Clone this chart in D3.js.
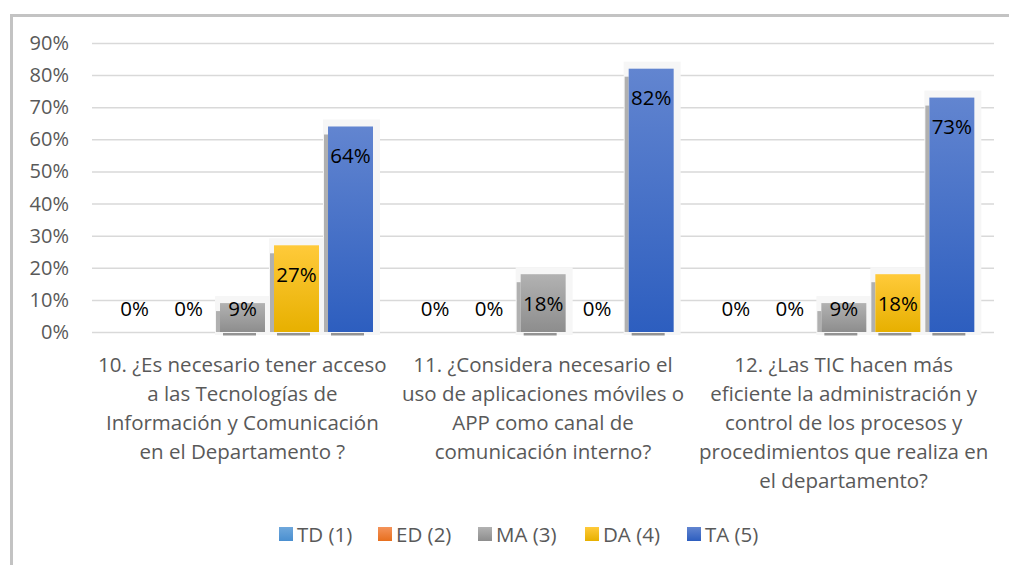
<!DOCTYPE html>
<html>
<head>
<meta charset="utf-8">
<script src="https://cdn.jsdelivr.net/npm/d3@7"></script>
<style>
  body { margin: 0; background: #fff; }
  svg { display: block; font-family: "Open Sans", sans-serif; }
</style>
</head>
<body>
<svg id="chart" width="1009" height="565"></svg>
<script>
// data
var categories = [
  "10. ¿Es necesario tener acceso\na las Tecnologías de\nInformación y Comunicación\nen el Departamento ?",
  "11. ¿Considera necesario el\nuso de aplicaciones móviles o\nAPP como canal de\ncomunicación interno?",
  "12. ¿Las TIC hacen más\neficiente la administración y\ncontrol de los procesos y\nprocedimientos que realiza en\nel departamento?"
];
var seriesNames = ["TD (1)", "ED (2)", "MA (3)", "DA (4)", "TA (5)"];
var TD = [0, 0, 0];
var ED = [0, 0, 0];
var MA = [9, 18, 9];
var DA = [27, 0, 18];
var TA = [64, 82, 73];
var yTicks = [0, 10, 20, 30, 40, 50, 60, 70, 80, 90];

var seriesValues = [TD, ED, MA, DA, TA];
var colors = [
  ["#6fa8dc", "#4a8fd0"],
  ["#f4935a", "#e76f1e"],
  ["#b2b2b2", "#8d8d8d"],
  ["#ffca3a", "#e7b000"],
  ["#6285d0", "#2d5ebf"]
];

var svg = d3.select("#chart");

// outer border
svg.append("rect")
  .attr("x", 11.5).attr("y", 15.5)
  .attr("width", 1009).attr("height", 600)
  .attr("fill", "none")
  .attr("stroke", "#c3c3c3")
  .attr("stroke-width", 3);

var defs = svg.append("defs");
colors.forEach(function(c, i){
  var g = defs.append("linearGradient")
    .attr("id", "grad" + i)
    .attr("x1", 0).attr("y1", 0).attr("x2", 0).attr("y2", 1);
  g.append("stop").attr("offset", "0%").attr("stop-color", c[0]);
  g.append("stop").attr("offset", "100%").attr("stop-color", c[1]);
});

var plotLeft = 92, plotRight = 994, plotTop = 43, plotBottom = 332;

var y = d3.scaleLinear().domain([0, 90]).range([plotBottom, plotTop]);
var x0 = d3.scaleBand().domain(d3.range(categories.length)).range([plotLeft, plotRight]);
var x1 = d3.scaleBand().domain(d3.range(seriesNames.length))
  .range([20, 281]).paddingInner(0.167).paddingOuter(0);

// gridlines
svg.append("g")
  .selectAll("line")
  .data(yTicks)
  .enter()
  .append("line")
  .attr("x1", plotLeft).attr("x2", plotRight)
  .attr("y1", function(d){ return y(d) + 0.5; })
  .attr("y2", function(d){ return y(d) + 0.5; })
  .attr("stroke", "#d9d9d9")
  .attr("stroke-width", 1.5);

// y axis labels
svg.append("g")
  .selectAll("text")
  .data(yTicks)
  .enter()
  .append("text")
  .attr("x", 69)
  .attr("y", function(d){ return y(d) + 7; })
  .attr("text-anchor", "end")
  .attr("font-size", 20)
  .attr("fill", "#595959")
  .text(function(d){ return d + "%"; });

// flatten bars
var bars = [];
categories.forEach(function(c, ci){
  seriesValues.forEach(function(vals, si){
    bars.push({ci: ci, si: si, v: vals[ci]});
  });
});

function bx(d){ return x0(d.ci) + x1(d.si); }
var bw = x1.bandwidth();

var barG = svg.append("g");
var shown = bars.filter(function(d){ return d.v > 0; });

// soft glow
barG.selectAll("rect.glow")
  .data(shown)
  .enter()
  .append("rect")
  .attr("class", "glow")
  .attr("x", function(d){ return bx(d) - 5; })
  .attr("y", function(d){ return y(d.v) - 7; })
  .attr("width", bw + 12)
  .attr("height", function(d){ return plotBottom - y(d.v) + 10; })
  .attr("fill", "#f6f6f6");

// left shadow
barG.selectAll("rect.shadow")
  .data(shown)
  .enter()
  .append("rect")
  .attr("class", "shadow")
  .attr("x", function(d){ return bx(d) - 4; })
  .attr("y", function(d){ return Math.min(y(d.v) + 8, plotBottom - 4); })
  .attr("width", 4)
  .attr("height", function(d){ return plotBottom - Math.min(y(d.v) + 8, plotBottom - 4); })
  .attr("fill", "#b0b0b0");

// baseline shadow
barG.selectAll("rect.base")
  .data(shown)
  .enter()
  .append("rect")
  .attr("class", "base")
  .attr("x", function(d){ return bx(d) + 3; })
  .attr("y", plotBottom + 1)
  .attr("width", bw - 12)
  .attr("height", 2.5)
  .attr("fill", "#7a7a7a")
  .attr("opacity", 0.8);

barG.selectAll("rect.bar")
  .data(shown)
  .enter()
  .append("rect")
  .attr("class", "bar")
  .attr("x", bx)
  .attr("y", function(d){ return y(d.v); })
  .attr("width", bw)
  .attr("height", function(d){ return plotBottom - y(d.v); })
  .attr("fill", function(d){ return "url(#grad" + d.si + ")"; });

// data labels
svg.append("g")
  .selectAll("text")
  .data(bars)
  .enter()
  .append("text")
  .attr("x", function(d){ return bx(d) + bw / 2; })
  .attr("y", function(d){ return Math.min(y(d.v) + 29, 308) + 7.5; })
  .attr("text-anchor", "middle")
  .attr("font-size", 20.5)
  .attr("fill", "#000")
  .text(function(d){ return d.v + "%"; });

// category labels
var catG = svg.append("g");
categories.forEach(function(c, ci){
  var t = catG.append("text")
    .attr("text-anchor", "middle")
    .attr("font-size", 20.5)
    .attr("fill", "#595959");
  c.split("\n").forEach(function(line, li){
    t.append("tspan")
      .attr("x", x0(ci) + x0.bandwidth() / 2)
      .attr("y", 372 + li * 29)
      .text(line);
  });
});

// legend
var legendX = [279, 378, 478, 585, 687];
var lg = svg.append("g")
  .selectAll("g")
  .data(seriesNames)
  .enter()
  .append("g")
  .attr("transform", function(d, i){ return "translate(" + legendX[i] + ",527)"; });
lg.append("rect")
  .attr("width", 14).attr("height", 14)
  .attr("fill", function(d, i){ return "url(#grad" + i + ")"; });
lg.append("text")
  .attr("x", 18).attr("y", 14.5)
  .attr("font-size", 20.5)
  .attr("fill", "#595959")
  .text(function(d){ return d; });
</script>
</body>
</html>
